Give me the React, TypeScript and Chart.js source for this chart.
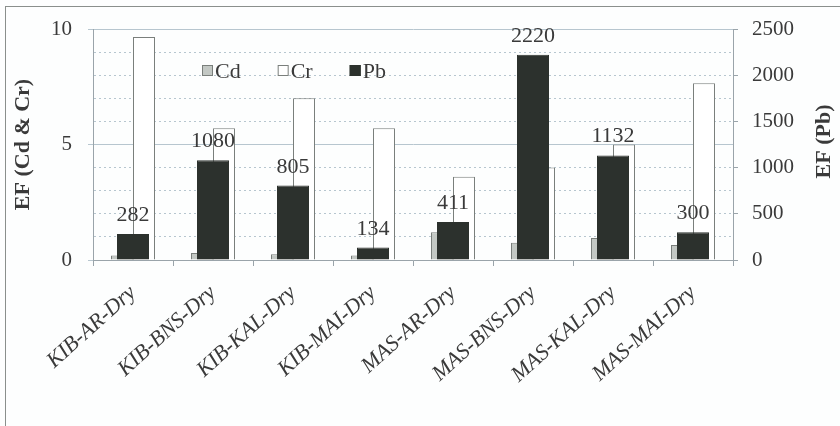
import React, { useEffect, useRef } from "react";
import { Chart, registerables } from "chart.js";

Chart.register(...registerables);

const categories = [
  "KIB-AR-Dry",
  "KIB-BNS-Dry",
  "KIB-KAL-Dry",
  "KIB-MAI-Dry",
  "MAS-AR-Dry",
  "MAS-BNS-Dry",
  "MAS-KAL-Dry",
  "MAS-MAI-Dry",
];
const cdValues = [0.2, 0.3, 0.25, 0.2, 1.2, 0.75, 0.95, 0.65];
const crValues = [9.65, 5.7, 7.0, 5.7, 3.6, 4.0, 5.0, 7.65];
const pbValues = [282, 1080, 805, 134, 411, 2220, 1132, 300];
const leftTitle = "EF (Cd & Cr)";
const rightTitle = "EF (Pb)";
const legendNames = ["Cd", "Cr", "Pb"];

const SERIF = "'Liberation Serif', 'Times New Roman', serif";
const TEXT = "#3a3a3a";
const GRID = "#b7c6cf";
const AXIS = "#9aa4aa";
const PB_FILL = "#2c312d";
const CD_FILL = "#c3c8c4";
const EDGE = "#7a7f7c";

const overlayPlugin = {
  id: "overlay",
  afterDatasetsDraw(chart: any) {
    const ctx = chart.ctx;
    const area = chart.chartArea;
    const meta = chart.getDatasetMeta(2);
    ctx.save();
    ctx.font = `22px ${SERIF}`;
    ctx.fillStyle = TEXT;
    ctx.textAlign = "center";
    ctx.textBaseline = "alphabetic";
    meta.data.forEach((bar: any, i: number) => {
      ctx.fillText(String(pbValues[i]), bar.x, bar.y - 13);
    });
    ctx.restore();

    ctx.save();
    ctx.font = `22px ${SERIF}`;
    ctx.textBaseline = "alphabetic";
    ctx.textAlign = "left";
    const fills = [CD_FILL, "#ffffff", PB_FILL];
    let x = area.left + 109;
    const yBox = area.top + 36;
    legendNames.forEach((name, i) => {
      ctx.fillStyle = fills[i];
      ctx.fillRect(x, yBox, 11, 11);
      ctx.strokeStyle = i === 2 ? PB_FILL : EDGE;
      ctx.lineWidth = 1;
      ctx.strokeRect(x + 0.5, yBox + 0.5, 10, 10);
      ctx.fillStyle = TEXT;
      ctx.fillText(name, x + 13, yBox + 13);
      x += 13 + ctx.measureText(name).width + 37;
    });
    ctx.restore();

    ctx.save();
    ctx.font = `bold 22px ${SERIF}`;
    ctx.fillStyle = TEXT;
    ctx.textAlign = "center";
    ctx.textBaseline = "middle";
    ctx.translate(chart.width - 16, (area.top + area.bottom) / 2 - 3);
    ctx.rotate(-Math.PI / 2);
    ctx.fillText(rightTitle, 0, 0);
    ctx.restore();
  },
};

export default function App() {
  const ref = useRef<HTMLCanvasElement>(null);
  useEffect(() => {
    const prevMargin = document.body.style.margin;
    document.body.style.margin = "0";
    const chart = new Chart(ref.current as HTMLCanvasElement, {
      type: "bar",
      data: {
        labels: categories,
        datasets: [
          {
            label: legendNames[0],
            data: cdValues,
            backgroundColor: CD_FILL,
            borderColor: EDGE,
            borderWidth: 1,
            xAxisID: "x",
            yAxisID: "y",
            categoryPercentage: 0.55,
            barPercentage: 1,
          },
          {
            label: legendNames[1],
            data: crValues,
            backgroundColor: "#ffffff",
            borderColor: EDGE,
            borderWidth: 1,
            xAxisID: "x",
            yAxisID: "y",
            categoryPercentage: 0.55,
            barPercentage: 1,
          },
          {
            label: legendNames[2],
            data: pbValues,
            backgroundColor: PB_FILL,
            borderColor: PB_FILL,
            borderWidth: 1,
            xAxisID: "x",
            yAxisID: "y1",
            categoryPercentage: 0.4,
            barPercentage: 1,
            grouped: false,
            order: -1,
          },
        ],
      },
      options: {
        responsive: false,
        animation: false,
        layout: { padding: { top: 29, left: 0, right: 0, bottom: 0 } },
        plugins: {
          legend: { display: false },
          tooltip: { enabled: false },
          title: { display: false },
        },
        scales: {
          x: {
            type: "category",
            position: "bottom",
            offset: true,
            afterFit(scale: any) {
              scale.height = 166;
            },
            grid: {
              display: true,
              drawOnChartArea: false,
              drawTicks: true,
              tickLength: 6,
              tickColor: AXIS,
              offset: true,
            },
            border: { display: true, color: AXIS, width: 1 },
            ticks: {
              color: TEXT,
              font: { family: SERIF, size: 22, style: "italic" },
              minRotation: 42,
              maxRotation: 42,
              autoSkip: false,
              padding: 14,
            },
          },
          y: {
            type: "linear",
            position: "left",
            min: 0,
            max: 10,
            afterFit(scale: any) {
              scale.width = 93;
            },
            afterBuildTicks(scale: any) {
              scale.ticks = Array.from({ length: 11 }, (_, i) => ({ value: i }));
            },
            grid: {
              color: GRID,
              lineWidth: 1,
              drawTicks: true,
              tickLength: 5,
              tickColor: (c: any) =>
                c.tick && c.tick.value % 5 === 0 ? GRID : "rgba(0,0,0,0)",
            },
            border: {
              display: true,
              color: AXIS,
              dash: (c: any) =>
                c.tick && c.tick.value % 5 !== 0 ? [2, 3] : [],
            },
            ticks: {
              color: TEXT,
              font: { family: SERIF, size: 21 },
              padding: 16,
              autoSkip: false,
              callback: (v: any) => (Number(v) % 5 === 0 ? String(v) : ""),
            },
            title: {
              display: true,
              text: leftTitle,
              color: TEXT,
              font: { family: SERIF, size: 22, weight: "bold" },
              padding: { top: 10, bottom: 0 },
            },
          },
          y1: {
            type: "linear",
            position: "right",
            min: 0,
            max: 2500,
            afterFit(scale: any) {
              scale.width = 107;
            },
            ticks: {
              stepSize: 500,
              color: TEXT,
              font: { family: SERIF, size: 21 },
              padding: 14,
              callback: (v: any) => String(v),
            },
            grid: {
              drawOnChartArea: false,
              drawTicks: true,
              tickLength: 5,
              tickColor: AXIS,
            },
            border: { display: true, color: AXIS },
          },
        },
      },
      plugins: [overlayPlugin],
    } as any);
    return () => {
      chart.destroy();
      document.body.style.margin = prevMargin;
    };
  }, []);

  return (
    <div
      style={{
        position: "fixed",
        left: 0,
        top: 0,
        width: 840,
        height: 426,
        background: "#fdfefe",
        overflow: "hidden",
      }}
    >
      <div
        style={{
          position: "absolute",
          left: 5,
          top: 6,
          width: 840,
          height: 426,
          borderTop: "1px solid #8a8f8c",
          borderLeft: "1px solid #8a8f8c",
        }}
      />
      <canvas
        ref={ref}
        width={840}
        height={426}
        style={{ position: "absolute", left: 0, top: 0, width: 840, height: 426 }}
      />
    </div>
  );
}
